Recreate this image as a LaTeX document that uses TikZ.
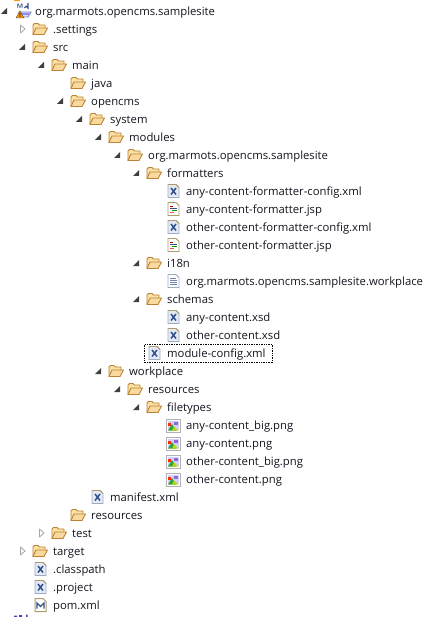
\documentclass[tikz,border=0pt]{standalone}
\usepackage{fontspec}
\setmainfont{Open Sans}
\definecolor{txt}{RGB}{20,20,30}
\definecolor{foldA}{RGB}{190,130,50}
\definecolor{foldB}{RGB}{250,225,165}
\definecolor{foldC}{RGB}{248,218,160}
\definecolor{pageE}{RGB}{160,170,195}
\definecolor{pageF}{RGB}{228,234,245}
\definecolor{xmlX}{RGB}{50,80,140}
\definecolor{tanE}{RGB}{175,155,105}
\tikzset{
  x=1pt,y=-1pt,
  lbl/.style={anchor=west,inner sep=0pt,text=txt,font=\fontsize{11.3}{14}\selectfont,text height=8.6pt,text depth=2.4pt,yshift=-1.3pt},
  pics/folder/.style={code={
    \draw[foldA,fill=foldB,line width=.9pt,line join=round] (-7,5.5)--(-7,-4)--(-5.5,-5.5)--(-2,-5.5)--(-.5,-4)--(5,-4)--(5,-1)--(3,5.5)--cycle;
    \draw[foldA,fill=foldC,line width=.9pt,line join=round] (-7,5.5)--(-4,-1)--(7.5,-1)--(4,5.5)--cycle;
  }},
  pics/arrowopen/.style={code={
    \draw[gray!70,fill=white,line width=.8pt,line join=round] (-2.5,-4)--(2,0)--(-2.5,4)--cycle;
  }},
  pics/arrowfull/.style={code={
    \fill[black!75] (3,-3)--(3,3)--(-3,3)--cycle;
  }},
  pics/xmlic/.style={code={
    \draw[pageE,fill=pageF,line width=.9pt] (-5,-6.5)--(3,-6.5)--(6,-3.5)--(6,6.5)--(-5,6.5)--cycle;
    \draw[tanE,line width=.8pt] (-5,-6.5)--(3,-6.5)--(6,-3.5);
    \draw[xmlX,line width=1.5pt] (-2,-3)--(3,3.5) (3,-3)--(-2,3.5);
  }},
  pics/jspic/.style={code={
    \draw[tanE,line width=.9pt,fill=white] (-5,-6.5)--(3,-6.5)--(6,-3.5)--(6,6.5)--(-5,6.5)--cycle;
    \draw[red!75!black,line width=.9pt] (-3,-3)--(0,-3);
    \draw[xmlX,line width=.9pt] (-3,-1)--(3.5,-1);
    \draw[green!60!black,line width=.9pt] (-1,1)--(3.5,1);
    \draw[red!70,line width=.9pt] (-3,3)--(1,3);
  }},
  pics/txtic/.style={code={
    \draw[pageE,fill=white,line width=.9pt] (-5,-6.5)--(3,-6.5)--(6,-3.5)--(6,6.5)--(-5,6.5)--cycle;
    \draw[xmlX!70,line width=.8pt] (-3,-3)--(3,-3) (-3,-1)--(4,-1) (-3,1)--(4,1) (-3,3)--(4,3);
  }},
  pics/pngic/.style={code={
    \draw[gray!60,fill=white,line width=1pt] (-7,-6) rectangle (7.5,7);
    \fill[blue!18] (-5,-4) rectangle (5.5,5);
    \fill[green!55!black!80] (-5,5.5)--(-1,-1)--(3,5.5)--cycle;
    \fill[yellow!70!green] (-1,5.5)--(1,1.5)--(5.5,5.5)--cycle;
    \fill[red!65!orange] (-5,-2) rectangle (-2,1);
    \fill[blue!40!violet!60] (1,-3) rectangle (5,-.5);
  }},
  pics/pomic/.style={code={
    \draw[tanE,fill=white,line width=1pt] (-5,-6.5)--(3,-6.5)--(6,-3.5)--(6,6.5)--(-5,6.5)--cycle;
    \draw[xmlX,line width=1.4pt,line join=miter] (-3,3.5)--(-3,-2)--(.5,1.5)--(4,-2)--(4,3.5);
  }},
  pics/rootic/.style={code={
    \draw[xmlX!70,fill=blue!12,line width=.8pt] (-3,1)--(9,1)--(6,6)--(-3,6)--cycle;
    \fill[blue!45] (0,2) rectangle (7,4.5);
    \node[font=\sffamily\bfseries\fontsize{6.5}{7}\selectfont,text=xmlX,inner sep=0pt] at (-2,-5) {M};
    \draw[xmlX,line width=1.1pt] (6,-8)--(6,-3) arc (0:-180:1.8);
    \fill[orange!85!yellow,draw=black!70,line width=.4pt] (-6,7)--(-2,0)--(2,7)--cycle;
    \fill[black] (-2.4,2) rectangle (-1.6,4.5) (-2.4,5) rectangle (-1.6,6);
  }},
}
% \rowitem{name}{icon}{icon x}{row}{text x}{text}
\newcommand{\rowitem}[6]{%
  \pgfmathsetmacro{\rowy}{11+18*#4}%
  \pic at (#3,\rowy) {#2};
  \node[lbl] (#1) at (#5,\rowy) {#6};
}
\newcommand{\rowarrow}[3]{%
  \pgfmathsetmacro{\rowy}{11+18*#3}%
  \pic at (#2,\rowy) {#1};
}
\begin{document}
\begin{tikzpicture}
\useasboundingbox (0,0) rectangle (427,617);
\fill[white] (0,0) rectangle (427,617);
% clipped icon fragments at the picture edges
\fill[orange!80!yellow] (14,0) rectangle (20,1);
\fill[blue!45!gray] (14,615.5) rectangle (17,617) (19,615) rectangle (22,617) (26,614.5) rectangle (27.5,617);
% focus rectangle
\draw[black,line width=.7pt,densely dotted] (144.5,344.5) rectangle (272.5,362.5);
% arrows
\rowarrow{arrowfull}{4}{0}
\rowarrow{arrowopen}{23}{1}
\rowarrow{arrowfull}{22}{2}
\rowarrow{arrowfull}{41}{3}
\rowarrow{arrowfull}{60}{5}
\rowarrow{arrowfull}{79}{6}
\rowarrow{arrowfull}{98}{7}
\rowarrow{arrowfull}{117}{8}
\rowarrow{arrowfull}{136}{9}
\rowarrow{arrowfull}{136}{14}
\rowarrow{arrowfull}{136}{16}
\rowarrow{arrowfull}{98}{20}
\rowarrow{arrowfull}{117}{21}
\rowarrow{arrowfull}{136}{22}
\rowarrow{arrowopen}{42}{29}
\rowarrow{arrowopen}{23}{30}
% rows
\rowitem{root}{rootic}{22}{0}{35}{org.marmots.opencms.samplesite}
\rowitem{settings}{folder}{40}{1}{53}{.settings}
\rowitem{src}{folder}{40}{2}{53}{src}
\rowitem{main}{folder}{59}{3}{72}{main}
\rowitem{java}{folder}{78}{4}{91}{java}
\rowitem{opencms}{folder}{78}{5}{91}{opencms}
\rowitem{system}{folder}{97}{6}{110}{system}
\rowitem{modules}{folder}{116}{7}{129}{modules}
\rowitem{orgdir}{folder}{135}{8}{148}{org.marmots.opencms.samplesite}
\rowitem{formatters}{folder}{154}{9}{167}{formatters}
\rowitem{acfc}{xmlic}{173}{10}{186}{any-content-formatter-config.xml}
\rowitem{acf}{jspic}{173}{11}{186}{any-content-formatter.jsp}
\rowitem{ocfc}{xmlic}{173}{12}{186}{other-content-formatter-config.xml}
\rowitem{ocf}{jspic}{173}{13}{186}{other-content-formatter.jsp}
\rowitem{i18n}{folder}{154}{14}{167}{i18n}
\rowitem{wp}{txtic}{173}{15}{186}{org.marmots.opencms.samplesite.workplace}
\rowitem{schemas}{folder}{154}{16}{167}{schemas}
\rowitem{acx}{xmlic}{173}{17}{186}{any-content.xsd}
\rowitem{ocx}{xmlic}{173}{18}{186}{other-content.xsd}
\rowitem{mc}{xmlic}{154}{19}{167}{module-config.xml}
\rowitem{workplace}{folder}{116}{20}{129}{workplace}
\rowitem{wres}{folder}{135}{21}{148}{resources}
\rowitem{filetypes}{folder}{154}{22}{167}{filetypes}
\rowitem{p1}{pngic}{173}{23}{186}{any-content\_big.png}
\rowitem{p2}{pngic}{173}{24}{186}{any-content.png}
\rowitem{p3}{pngic}{173}{25}{186}{other-content\_big.png}
\rowitem{p4}{pngic}{173}{26}{186}{other-content.png}
\rowitem{manifest}{xmlic}{97}{27}{110}{manifest.xml}
\rowitem{res}{folder}{78}{28}{91}{resources}
\rowitem{test}{folder}{59}{29}{72}{test}
\rowitem{target}{folder}{40}{30}{53}{target}
\rowitem{cp}{xmlic}{40}{31}{53}{.classpath}
\rowitem{pj}{xmlic}{40}{32}{53}{.project}
\rowitem{pom}{pomic}{40}{33}{53}{pom.xml}
\end{tikzpicture}
\end{document}
